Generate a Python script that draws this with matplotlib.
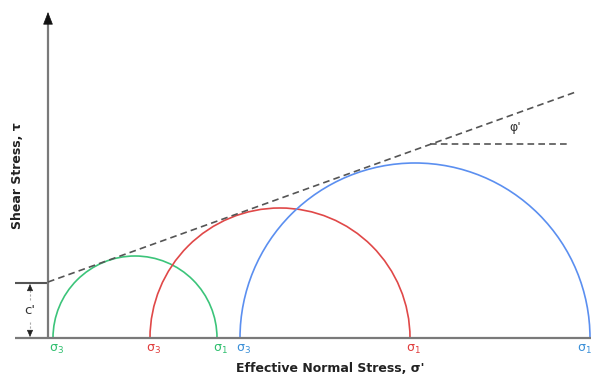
import numpy as np
import matplotlib.pyplot as plt
from matplotlib.patches import Arc

# Mohr circles: (sigma3, sigma1) in effective normal stress units
sigma3 = [5, 102, 192]
sigma1 = [169, 362, 542]
circle_colors = ["#3cc47a", "#e04848", "#5b8ff0"]
label_colors = ["#2fbf6e", "#e03c3c", "#3a8fd8"]

# Mohr-Coulomb envelope
cohesion = 56
phi_deg = 19.8
envelope_end = 527
phi_ref_start = 382
phi_ref_end = 522

fig = plt.figure(figsize=(5.95, 3.79), dpi=100)
ax = fig.add_axes([0, 0, 1, 1])
ax.set_xlim(-48, 547)
ax.set_ylim(-41, 338)
ax.set_aspect("equal")
ax.axis("off")

axis_color = "#7a7a7a"
head = dict(arrowstyle="-|>,head_length=0.9,head_width=0.35", color="#111111",
            lw=0.5, mutation_scale=9, shrinkA=0, shrinkB=0)
# horizontal axis
ax.plot([-33, 543], [0, 0], color=axis_color, lw=1.6, solid_capstyle="butt", zorder=3)
ax.annotate("", xy=(551, 0), xytext=(542, 0), arrowprops=head, zorder=4)
# vertical axis
ax.plot([0, 0], [0, 319], color=axis_color, lw=1.6, solid_capstyle="butt", zorder=3)
ax.annotate("", xy=(0, 326), xytext=(0, 318), arrowprops=head, zorder=4)

# circles
for s3, s1, c in zip(sigma3, sigma1, circle_colors):
    centre = (s3 + s1) / 2
    radius = (s1 - s3) / 2
    ax.add_patch(Arc((centre, 0), 2 * radius, 2 * radius, theta1=0, theta2=180,
                     color=c, lw=1.2, zorder=2))

# failure envelope
tan_phi = np.tan(np.radians(phi_deg))
xe = np.array([0, envelope_end])
ax.plot(xe, cohesion + tan_phi * xe, ls=(0, (4, 2.5)), color="#555555", lw=1.2, zorder=4)
y_ref = cohesion + tan_phi * phi_ref_start
ax.plot([phi_ref_start, phi_ref_end], [y_ref, y_ref], ls=(0, (4, 2.5)),
        color="#555555", lw=1.2, zorder=4)
ax.text(467, 210, "φ'", fontsize=9, color="#333333", ha="center", va="center")

# cohesion marker
ax.plot([-33, 0], [cohesion - 1, cohesion - 1], color="#555555", lw=1.5,
        solid_capstyle="butt")
ax.plot([-18, -18], [38, cohesion - 5], color="#aaaaaa", lw=0.8, ls=(0, (2, 1.5)))
ax.plot([-18, -18], [16, 5], color="#aaaaaa", lw=0.8, ls=(0, (2, 1.5)))
small = dict(arrowstyle="-|>,head_length=0.8,head_width=0.35", color="#222222",
             lw=0.4, mutation_scale=5.5, shrinkA=0, shrinkB=0)
ax.annotate("", xy=(-18, cohesion - 2), xytext=(-18, cohesion - 7), arrowprops=small)
ax.annotate("", xy=(-18, 1), xytext=(-18, 6), arrowprops=small)
ax.text(-18, 27, "c'", fontsize=9.5, color="#333333", ha="center", va="center")

# principal stress labels
for i, (s3, s1, c) in enumerate(zip(sigma3, sigma1, label_colors)):
    ax.text(s3 + 3, -11, r"$\mathregular{\sigma_3}$", color=c, fontsize=9,
            ha="center", va="center")
    x1 = s1 + 3 if i < 2 else s1 - 6
    ax.text(x1, -11, r"$\mathregular{\sigma_1}$", color=c, fontsize=9,
            ha="center", va="center")

ax.text(282, -30, "Effective Normal Stress, σ'", fontsize=9, fontweight="bold",
        color="#222222", ha="center", va="center")
ax.text(-30, 162, "Shear Stress, τ", fontsize=9, fontweight="bold", color="#222222",
        rotation=90, ha="center", va="center")

fig.savefig("out.png", dpi=100)
